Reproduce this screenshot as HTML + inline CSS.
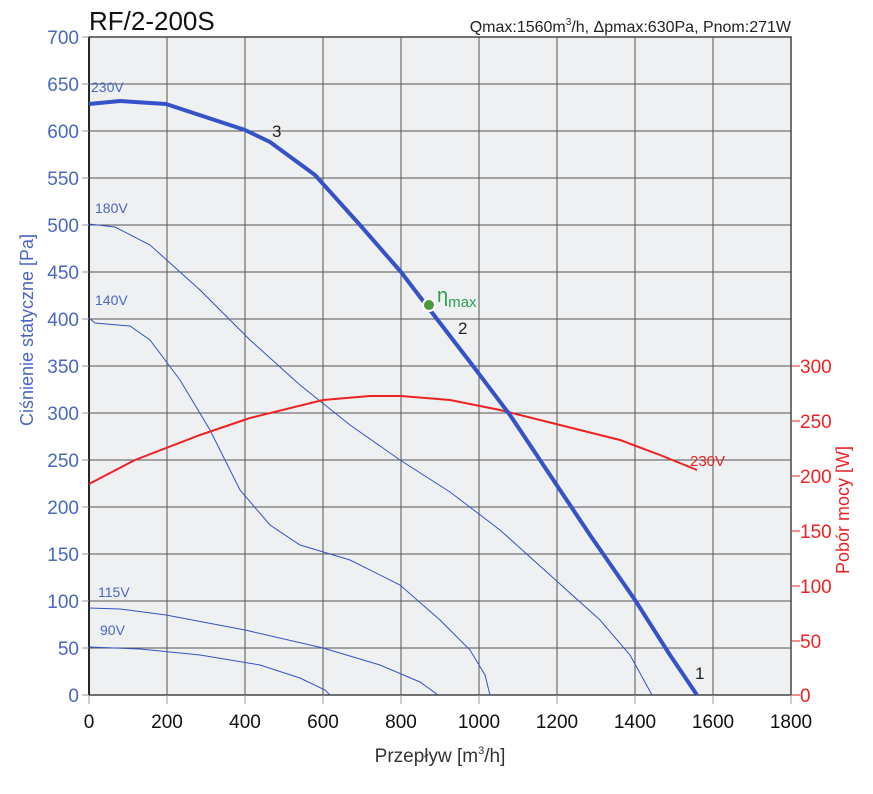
<!DOCTYPE html>
<html><head><meta charset="utf-8"><style>
html,body{margin:0;padding:0;background:#fff;}
svg{display:block;font-family:"Liberation Sans Narrow","Liberation Sans",sans-serif;}
</style></head><body>
<svg width="873" height="794" viewBox="0 0 873 794" xmlns="http://www.w3.org/2000/svg">
<rect x="89" y="37" width="702" height="658" fill="#eff0f1"/>
<g stroke="#555" stroke-width="1">
<line x1="167" y1="37" x2="167" y2="695"/><line x1="245" y1="37" x2="245" y2="695"/>
<line x1="323" y1="37" x2="323" y2="695"/><line x1="401" y1="37" x2="401" y2="695"/>
<line x1="479" y1="37" x2="479" y2="695"/><line x1="557" y1="37" x2="557" y2="695"/>
<line x1="635" y1="37" x2="635" y2="695"/><line x1="713" y1="37" x2="713" y2="695"/>
<line x1="89" y1="84" x2="791" y2="84"/><line x1="89" y1="131" x2="791" y2="131"/>
<line x1="89" y1="178" x2="791" y2="178"/><line x1="89" y1="225" x2="791" y2="225"/>
<line x1="89" y1="272" x2="791" y2="272"/><line x1="89" y1="319" x2="791" y2="319"/>
<line x1="89" y1="366" x2="791" y2="366"/><line x1="89" y1="413" x2="791" y2="413"/>
<line x1="89" y1="460" x2="791" y2="460"/><line x1="89" y1="507" x2="791" y2="507"/>
<line x1="89" y1="554" x2="791" y2="554"/><line x1="89" y1="601" x2="791" y2="601"/>
<line x1="89" y1="648" x2="791" y2="648"/>
</g>
<rect x="89" y="37" width="702" height="658" fill="none" stroke="#444" stroke-width="1.5"/>
<line x1="89" y1="37" x2="89" y2="695" stroke="#000" stroke-width="1.5"/>
<!-- left ticks -->
<g stroke="#999" stroke-width="1">
<line x1="82" y1="37" x2="89" y2="37"/><line x1="82" y1="84" x2="89" y2="84"/><line x1="82" y1="131" x2="89" y2="131"/><line x1="82" y1="178" x2="89" y2="178"/><line x1="82" y1="225" x2="89" y2="225"/><line x1="82" y1="272" x2="89" y2="272"/><line x1="82" y1="319" x2="89" y2="319"/><line x1="82" y1="366" x2="89" y2="366"/><line x1="82" y1="413" x2="89" y2="413"/><line x1="82" y1="460" x2="89" y2="460"/><line x1="82" y1="507" x2="89" y2="507"/><line x1="82" y1="554" x2="89" y2="554"/><line x1="82" y1="601" x2="89" y2="601"/><line x1="82" y1="648" x2="89" y2="648"/><line x1="82" y1="695" x2="89" y2="695"/>
<line x1="89" y1="695" x2="89" y2="704"/><line x1="167" y1="695" x2="167" y2="704"/><line x1="245" y1="695" x2="245" y2="704"/><line x1="323" y1="695" x2="323" y2="704"/><line x1="401" y1="695" x2="401" y2="704"/><line x1="479" y1="695" x2="479" y2="704"/><line x1="557" y1="695" x2="557" y2="704"/><line x1="635" y1="695" x2="635" y2="704"/><line x1="713" y1="695" x2="713" y2="704"/><line x1="791" y1="695" x2="791" y2="704"/>
</g>
<g stroke="#e22" stroke-width="1">
<line x1="791" y1="366" x2="800" y2="366"/><line x1="791" y1="421" x2="800" y2="421"/><line x1="791" y1="476" x2="800" y2="476"/><line x1="791" y1="531" x2="800" y2="531"/><line x1="791" y1="586" x2="800" y2="586"/><line x1="791" y1="641" x2="800" y2="641"/><line x1="791" y1="695" x2="800" y2="695"/>
</g>
<g fill="#4a67c0" font-size="19" text-anchor="end">
<text x="79" y="44">700</text><text x="79" y="91">650</text><text x="79" y="138">600</text><text x="79" y="185">550</text><text x="79" y="232">500</text><text x="79" y="279">450</text><text x="79" y="326">400</text><text x="79" y="373">350</text><text x="79" y="420">300</text><text x="79" y="467">250</text><text x="79" y="514">200</text><text x="79" y="561">150</text><text x="79" y="608">100</text><text x="79" y="655">50</text><text x="79" y="702">0</text>
</g>
<g fill="#e22" font-size="19">
<text x="800" y="373">300</text><text x="800" y="428">250</text><text x="800" y="483">200</text><text x="800" y="538">150</text><text x="800" y="593">100</text><text x="800" y="648">50</text><text x="800" y="702">0</text>
</g>
<g fill="#111" font-size="19" text-anchor="middle">
<text x="89" y="728">0</text><text x="167" y="728">200</text><text x="245" y="728">400</text><text x="323" y="728">600</text><text x="401" y="728">800</text><text x="479" y="728">1000</text><text x="557" y="728">1200</text><text x="635" y="728">1400</text><text x="713" y="728">1600</text><text x="791" y="728">1800</text>
</g>
<text x="440" y="762" font-size="19" fill="#333" text-anchor="middle">Przepływ [m<tspan font-size="11" dy="-8">3</tspan><tspan dy="8">/h]</tspan></text>
<text transform="translate(33,330) rotate(-90)" font-size="18" fill="#4a67c0" text-anchor="middle">Ciśnienie statyczne [Pa]</text>
<text transform="translate(849,510) rotate(-90)" font-size="18" fill="#e22" text-anchor="middle">Pobór mocy [W]</text>
<text x="89" y="30" font-size="26" fill="#111">RF/2-200S</text>
<text x="791" y="32" font-size="16" fill="#222" text-anchor="end">Qmax:1560m<tspan font-size="10" dy="-7">3</tspan><tspan dy="7">/h, Δpmax:630Pa, Pnom:271W</tspan></text>
<g fill="none" stroke="#3552c8" stroke-width="1">
<polyline points="89,224 115,227 150,245 200,290 250,340 300,385 350,425 400,460 450,492 500,530 550,575 600,620 630,655 652,695"/>
<polyline points="89,318 95,323 130,326 150,340 180,380 210,430 240,490 270,525 300,545 350,560 400,585 440,620 470,650 485,675 490,695"/>
<polyline points="89,608 120,609 166,615 245,630 323,648 380,665 420,682 438,695"/>
<polyline points="89,647 140,649 200,655 260,665 300,678 325,690 330,695"/>
</g>
<polyline fill="none" stroke="#e22" stroke-width="2" points="89,484 135,460 200,435 250,418 323,400 370,396 401,396 450,400 500,410 560,425 620,440 660,455 697,470"/>
<polyline fill="none" stroke="#3552c8" stroke-width="4" stroke-linejoin="round" points="89,104 120,101 166,104 245,130 270,142 315,175 360,225 401,272 430,310 470,362 510,415 550,475 590,535 635,600 670,655 697,695"/>
<circle cx="429" cy="305" r="6" fill="#4a9a3c" stroke="#fff" stroke-width="2"/>
<text x="437" y="302" font-size="20" fill="#2aa050">η<tspan font-size="15" dy="5">max</tspan></text>
<g fill="#222" font-size="17">
<text x="272" y="137">3</text><text x="458" y="334">2</text><text x="695" y="679">1</text>
</g>
<g fill="#4a67c0" font-size="14">
<text x="91" y="92">230V</text><text x="95" y="213">180V</text><text x="95" y="305">140V</text><text x="98" y="597">115V</text><text x="100" y="635">90V</text>
</g>
<text x="690" y="466" font-size="15" fill="#e22">230V</text>
</svg>
</body></html>
